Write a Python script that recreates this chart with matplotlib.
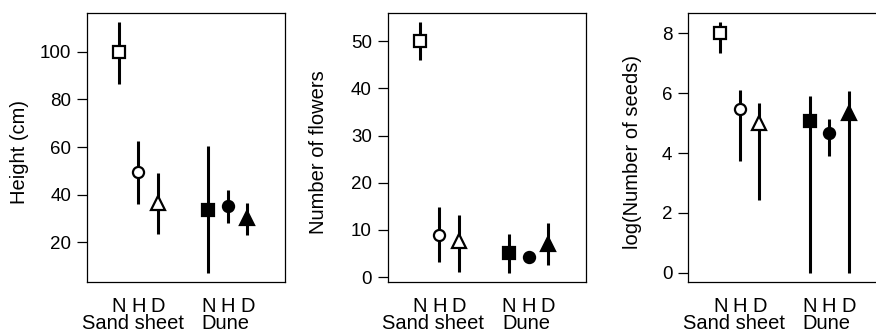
import numpy as np
from matplotlib import pyplot as plt

plt.rcParams['font.family'] = ['Liberation Sans', 'DejaVu Sans']

habitats = ["Sand sheet", "Dune"]
treatments = ["N", "H", "D"]
shapes = ["s", "o", "^"]

# height (cm): means and interval ends, sand sheet N,H,D then dune N,H,D
height_mean = [100, 49.3, 36.6, 33.5, 35.3, 30.0]
height_lo = [86.5, 36.0, 23.2, 7.1, 28.1, 23.0]
height_hi = [112.8, 62.5, 49.0, 60.4, 42.0, 36.3]

flowers_mean = [50, 9.0, 7.6, 5.1, 4.2, 7.1]
flowers_lo = [46.0, 3.1, 1.1, 0.9, 4.2, 2.5]
flowers_hi = [54.0, 14.8, 13.1, 9.2, 4.2, 11.5]

seeds_mean = [8.0, 5.46, 5.0, 5.07, 4.68, 5.34]
seeds_lo = [7.35, 3.72, 2.44, 0.0, 3.9, 0.0]
seeds_hi = [8.38, 6.1, 5.66, 5.91, 5.13, 6.07]

panels = [
    ("Height (cm)", height_mean, height_lo, height_hi, [20, 40, 60, 80, 100], (3.2, 116.4)),
    ("Number of flowers", flowers_mean, flowers_lo, flowers_hi, [0, 10, 20, 30, 40, 50], (-1.06, 56.0)),
    ("log(Number of seeds)", seeds_mean, seeds_lo, seeds_hi, [0, 2, 4, 6, 8], (-0.31, 8.68)),
]

xpos = np.array([1, 2, 3, 5.6, 6.6, 7.6])
lefts = [87, 387.7, 688.3]
label_x = [-0.338, -0.347, -0.28]

W, H = 876, 334
fig = plt.figure(figsize=(W / 100, H / 100), dpi=100)

for i, (ylab, mean, lo, hi, yt, ylim) in enumerate(panels):
    ax = fig.add_axes([lefts[i] / W, (H - 282) / H, 198.3 / W, 269 / H])
    ax.vlines(xpos, lo, hi, color='black', lw=2.2, zorder=2)
    for k in range(6):
        filled = k >= 3
        ax.plot(xpos[k], mean[k], marker=shapes[k % 3],
                ms=[9.0, 8.0, 10.0][k % 3],
                mfc='black' if filled else 'white', mec='black', mew=1.6,
                ls='none', zorder=3, clip_on=False)
    ax.set_xlim(-0.65, 9.56)
    ax.set_ylim(*ylim)
    ax.set_yticks(yt)
    ax.tick_params(axis='y', length=7.5, width=0.9, labelsize=13.5, pad=4)
    ax.set_xticks(xpos)
    ax.set_xticklabels(treatments * 2)
    ax.tick_params(axis='x', length=0, labelsize=14.5, pad=10.5)
    for s in ax.spines.values():
        s.set_linewidth(0.9)
    ax.text(1.7, -0.155, habitats[0], transform=ax.get_xaxis_transform(),
            ha='center', va='center', fontsize=14.5)
    ax.text(6.47, -0.155, habitats[1], transform=ax.get_xaxis_transform(),
            ha='center', va='center', fontsize=14.5)
    ax.text(label_x[i], 0.483, ylab, transform=ax.transAxes, rotation=90,
            ha='center', va='center', fontsize=14.5)

fig.savefig("out.png", dpi=100)
